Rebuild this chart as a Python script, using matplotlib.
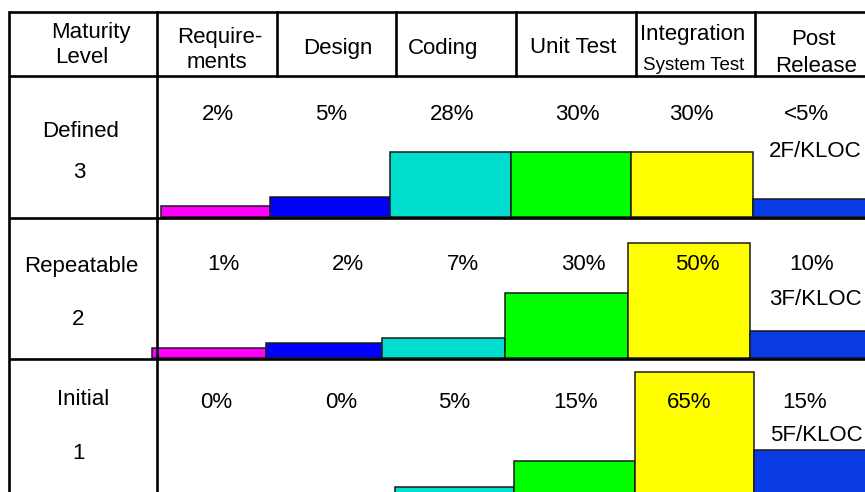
import matplotlib.pyplot as plt
from matplotlib import font_manager

# data
phases = ["Requirements", "Design", "Coding", "Unit Test", "Integration/System Test", "Post Release"]
levels = ["Defined", "Repeatable", "Initial"]
level_nums = ["3", "2", "1"]
pct_labels = [
    ["2%", "5%", "28%", "30%", "30%", "<5%"],
    ["1%", "2%", "7%", "30%", "50%", "10%"],
    ["0%", "0%", "5%", "15%", "65%", "15%"],
]
# bar heights as drawn (not proportional in the original)
bar_heights = [
    [10.7, 20, 64.7, 64.7, 64.7, 17.7],
    [9.4, 14.4, 19.4, 64.4, 115, 27],
    [0, 0, 10.3, 36, 124.7, 47],
]
defect_density = ["2F/KLOC", "3F/KLOC", "5F/KLOC"]

colors = ["#FF00FF", "#0000FF", "#00DDCC", "#00FF00", "#FFFF00", "#0A3CE6"]

# layout (pixel coordinates, y down)
W, H = 865, 492
baselines = [216.7, 357.7, 497]
bar_edges = [
    [161, 270, 390, 511, 631, 753, 880],
    [152.3, 266, 382, 505, 628, 750, 880],
    [155, 275, 395, 514, 634.5, 754, 880],
]
pct_x = [
    [217.5, 331, 452, 577.5, 691, 806],
    [223.5, 348, 462.5, 583, 697, 811.5],
    [216, 341, 454.5, 576, 689, 804.5],
]
pct_y = [119.5, 270.5, 407.5]
dens_pos = [(815, 156.7, "center"), (862, 305, "right"), (816.5, 441, "center")]
level_pos = [(81, 137.3, 79, 178.3), (81, 272, 78.5, 325), (83, 405.3, 78, 458.7)]

avail = {f.name for f in font_manager.fontManager.ttflist}
narrow = "Liberation Sans Narrow" if "Liberation Sans Narrow" in avail else None
plt.rcParams["font.family"] = ["Liberation Sans", "DejaVu Sans"]
FS = 16

fig = plt.figure(figsize=(W / 100, H / 100), dpi=100)
ax = fig.add_axes([0, 0, 1, 1])
ax.set_xlim(0, W)
ax.set_ylim(H, 0)
ax.axis("off")

# bars
for r in range(3):
    edges = bar_edges[r]
    lefts = edges[:-1]
    widths = [edges[i + 1] - edges[i] for i in range(6)]
    hs = bar_heights[r]
    for i in range(6):
        if hs[i] <= 0:
            continue
        ax.bar(lefts[i], hs[i], width=widths[i], bottom=baselines[r] - hs[i],
               align="edge", color=colors[i], edgecolor="#1a1a1a", linewidth=1.1, zorder=2)

# table grid
lw = 1.9
for y in [12, 76, 218, 358.5]:
    ax.plot([9, W + 5], [y, y], color="black", lw=lw, zorder=4, solid_capstyle="butt")
for x in [9, 157]:
    ax.plot([x, x], [12, H + 5], color="black", lw=lw, zorder=4)
for x in [277, 396, 516, 636, 755]:
    ax.plot([x, x], [12, 76], color="black", lw=lw, zorder=4)

# header
hdr = [
    ("Maturity", 91, 38.3), ("Level", 81.7, 63.3),
    ("Require-", 220, 43.3), ("ments", 217, 68.3),
    ("Design", 337.7, 54), ("Coding", 443, 54), ("Unit Test", 573, 53),
    ("Integration", 693, 40),
    ("Post", 813, 45), ("Release", 815.7, 71.7),
]
for t, x, y in hdr:
    ax.text(x, y, t, fontsize=FS, ha="center", va="baseline", zorder=5)
if narrow:
    ax.text(694, 70, "System Test", fontsize=FS, family=[narrow, "DejaVu Sans"],
            ha="center", va="baseline", zorder=5)
else:
    ax.text(694, 70, "System Test", fontsize=13.5, ha="center", va="baseline", zorder=5)

# row labels and values
for r in range(3):
    lx, ly, nx, ny = level_pos[r]
    ax.text(lx, ly, levels[r], fontsize=FS, ha="center", va="baseline", zorder=5)
    ax.text(nx, ny, level_nums[r], fontsize=FS, ha="center", va="baseline", zorder=5)
    for i in range(6):
        ax.text(pct_x[r][i], pct_y[r], pct_labels[r][i], fontsize=FS,
                ha="center", va="baseline", zorder=5)
    dx, dy, ha = dens_pos[r]
    ax.text(dx, dy, defect_density[r], fontsize=FS, ha=ha, va="baseline", zorder=5)

fig.savefig("out.png", dpi=100, facecolor="white")
